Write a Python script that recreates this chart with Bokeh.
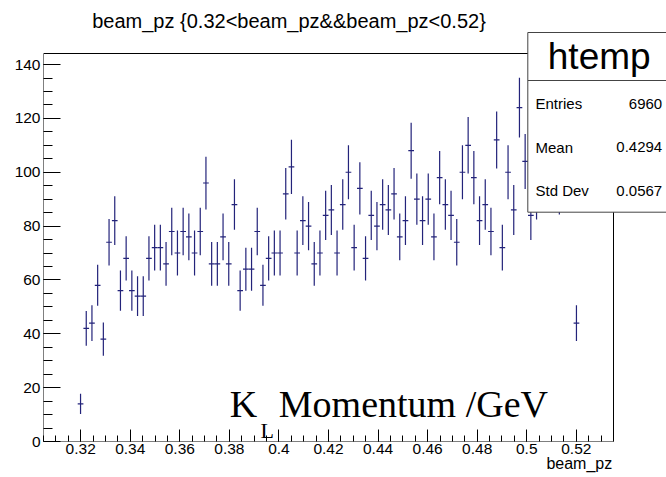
import math
from bokeh.plotting import figure
from bokeh.models import Range1d, FixedTicker, Label, BoxAnnotation, ColumnDataSource, Title
from bokeh.embed import file_html
from bokeh.resources import INLINE

# ---- histogram definition (ROOT htemp) ----
hist_lo = 0.305
hist_hi = 0.535
n_bins = 100

# non-empty bins (index) and their contents
bin_index = [6, 7, 8, 9, 10, 11, 12, 13, 14, 15, 16, 17, 18, 19, 20,
             21, 22, 23, 24, 25, 26, 27, 28, 29, 30, 31, 32, 33, 34, 35,
             36, 37, 38, 39, 40, 41, 42, 43, 44, 45, 46, 47, 48, 49, 50,
             51, 52, 53, 54, 55, 56, 57, 58, 59, 60, 61, 62, 63, 64, 65,
             66, 67, 68, 69, 70, 71, 72, 73, 74, 75, 76, 77, 78, 79, 80,
             81, 82, 83, 84, 85, 86, 87, 88, 89, 90, 91, 92, 93]
counts = [14, 42, 44, 58, 38, 74, 82, 56, 68, 56, 54, 54, 68, 72, 72,
          66, 78, 70, 78, 76, 70, 78, 96, 66, 66, 76, 66, 88, 56, 64,
          64, 78, 58, 68, 70, 70, 92, 102, 70, 82, 80, 66, 70, 84, 86,
          70, 88, 100, 72, 94, 68, 84, 80, 88, 86, 92, 76, 82, 108, 90,
          82, 90, 76, 98, 88, 84, 74, 100, 110, 98, 82, 88, 78, 112, 72,
          100, 86, 124, 104, 84, 92, 100, 106, 126, 94, 98, 106, 44]

x_ticks = [0.32, 0.34, 0.36, 0.38, 0.40, 0.42, 0.44, 0.46, 0.48, 0.50, 0.52]
x_tick_labels = ["0.32", "0.34", "0.36", "0.38", "0.4", "0.42", "0.44",
                 "0.46", "0.48", "0.5", "0.52"]
x_minor = [0.305, 0.31, 0.315, 0.32, 0.325, 0.33, 0.335, 0.34, 0.345, 0.35,
           0.355, 0.36, 0.365, 0.37, 0.375, 0.38, 0.385, 0.39, 0.395, 0.40,
           0.405, 0.41, 0.415, 0.42, 0.425, 0.43, 0.435, 0.44, 0.445, 0.45,
           0.455, 0.46, 0.465, 0.47, 0.475, 0.48, 0.485, 0.49, 0.495, 0.50,
           0.505, 0.51, 0.515, 0.52, 0.525, 0.53, 0.535]
y_ticks = [0, 20, 40, 60, 80, 100, 120, 140]
y_tick_labels = ["0", "20", "40", "60", "80", "100", "120", "140"]
y_minor = [0, 5, 10, 15, 20, 25, 30, 35, 40, 45, 50, 55, 60, 65, 70, 75,
           80, 85, 90, 95, 100, 105, 110, 115, 120, 125, 130, 135, 140]
y_max = 144.1

title_text = "beam_pz {0.32<beam_pz&&beam_pz<0.52}"
x_title = "beam_pz"
stats_title = "htemp"
stats_names = ["Entries", "Mean", "Std Dev"]
stats_values = ["6960", "0.4294", "0.0567"]

# ---- page geometry (pixels) ----
W, H = 666, 477
frame_left, frame_bottom = 43, 441          # where the axes sit
box_right, box_top = 613, 53                # visible histogram frame
plot_w = W - frame_left                     # drawing area reaches right edge
plot_h = frame_bottom                       # drawing area reaches top edge

x_end = hist_lo + (hist_hi - hist_lo) * plot_w / (box_right - frame_left)
y_end = y_max * plot_h / (frame_bottom - box_top)

# ---- derived columns ----
bw = (hist_hi - hist_lo) / n_bins
xc = [hist_lo + (i + 0.5) * bw for i in bin_index]
err = [math.sqrt(c) for c in counts]
src = ColumnDataSource(dict(
    x=xc, y=counts,
    left=[x - bw / 2 for x in xc], right=[x + bw / 2 for x in xc],
    lo=[c - e for c, e in zip(counts, err)], hi=[c + e for c, e in zip(counts, err)],
))

p = figure(width=W, height=H, output_backend="svg", toolbar_location=None,
           x_range=Range1d(hist_lo, x_end), y_range=Range1d(0, y_end),
           title=None, min_border_left=frame_left, min_border_right=0,
           min_border_top=0, min_border_bottom=H - frame_bottom)
p.background_fill_color = "white"
p.border_fill_color = "white"
p.outline_line_color = None
p.grid.visible = False

line_col = "#23237a"
p.segment(x0="x", y0="lo", x1="x", y1="hi", source=src, line_color=line_col, line_width=1.2)
p.segment(x0="left", y0="y", x1="right", y1="y", source=src, line_color=line_col, line_width=1.2)

# histogram frame
p.add_layout(BoxAnnotation(left=hist_lo, right=hist_hi, bottom=0, top=y_max,
                           fill_color=None, fill_alpha=0, line_color="black",
                           line_width=1, line_alpha=1.0))

tick_font = "Liberation Sans"
for ax, ticks, minor, labels in ((p.xaxis[0], x_ticks, x_minor, x_tick_labels),
                                 (p.yaxis[0], y_ticks, y_minor, y_tick_labels)):
    ax.ticker = FixedTicker(ticks=ticks, minor_ticks=minor)
    ax.major_label_overrides = {t: l for t, l in zip(ticks, labels)}
    ax.major_label_text_font = tick_font
    ax.major_label_text_font_size = "15.5px"
    ax.major_label_text_color = "black"
    ax.axis_line_color = None
    ax.major_tick_line_color = "black"
    ax.minor_tick_line_color = "black"
    ax.major_tick_out = 0
    ax.minor_tick_out = 0

p.xaxis.major_tick_in = 12
p.xaxis.minor_tick_in = 6
p.xaxis.major_label_standoff = 2
p.yaxis.major_tick_in = 17
p.yaxis.minor_tick_in = 9
p.yaxis.major_label_standoff = 3

# x axis title, right aligned under the axis
p.add_layout(Title(text=x_title, align="right", offset=W - 611.7, standoff=-3,
                   vertical_align="top",
                   text_font="Liberation Sans", text_font_size="16px",
                   text_font_style="normal", text_color="black"), "below")


def lab(text, x, y, size, font="Liberation Sans", align="left", baseline="alphabetic"):
    # x from frame left, y upward from frame bottom (pixels); y is the glyph baseline
    if baseline == "alphabetic":
        y = y + 0.32 * size
    p.add_layout(Label(x=x, y=y, x_units="screen", y_units="screen", text=text,
                       text_font=font, text_font_size=f"{size}px", text_color="black",
                       text_align=align, text_baseline=baseline))


# histogram title
lab(title_text, 48.7, 414.3, 20)

# stats box
for top, bottom in ((409, 361), (361, 229.3)):
    p.add_layout(BoxAnnotation(left=484.3, right=plot_w + 10, top=top, bottom=bottom,
                               left_units="screen", right_units="screen",
                               top_units="screen", bottom_units="screen",
                               fill_color="white", fill_alpha=1.0,
                               line_color="#444444", line_width=1, line_alpha=1.0))
lab(stats_title, 555.7, 372.7, 37, align="center")
for i, (n, v) in enumerate(zip(stats_names, stats_values)):
    yy = 337.7 - i * 43.35
    lab(n, 492, yy, 15, baseline="middle")
    lab(v, 618.7, yy, 15, align="right", baseline="middle")

# K_L Momentum /GeV
serif = "Liberation Serif"
lab("K", 186.3, 25, 38, font=serif)
lab("L", 217, 4.3, 22, font=serif)
lab("Momentum /GeV", 235.3, 25, 38, font=serif)

open("out.html", "w").write(file_html(p, INLINE))
